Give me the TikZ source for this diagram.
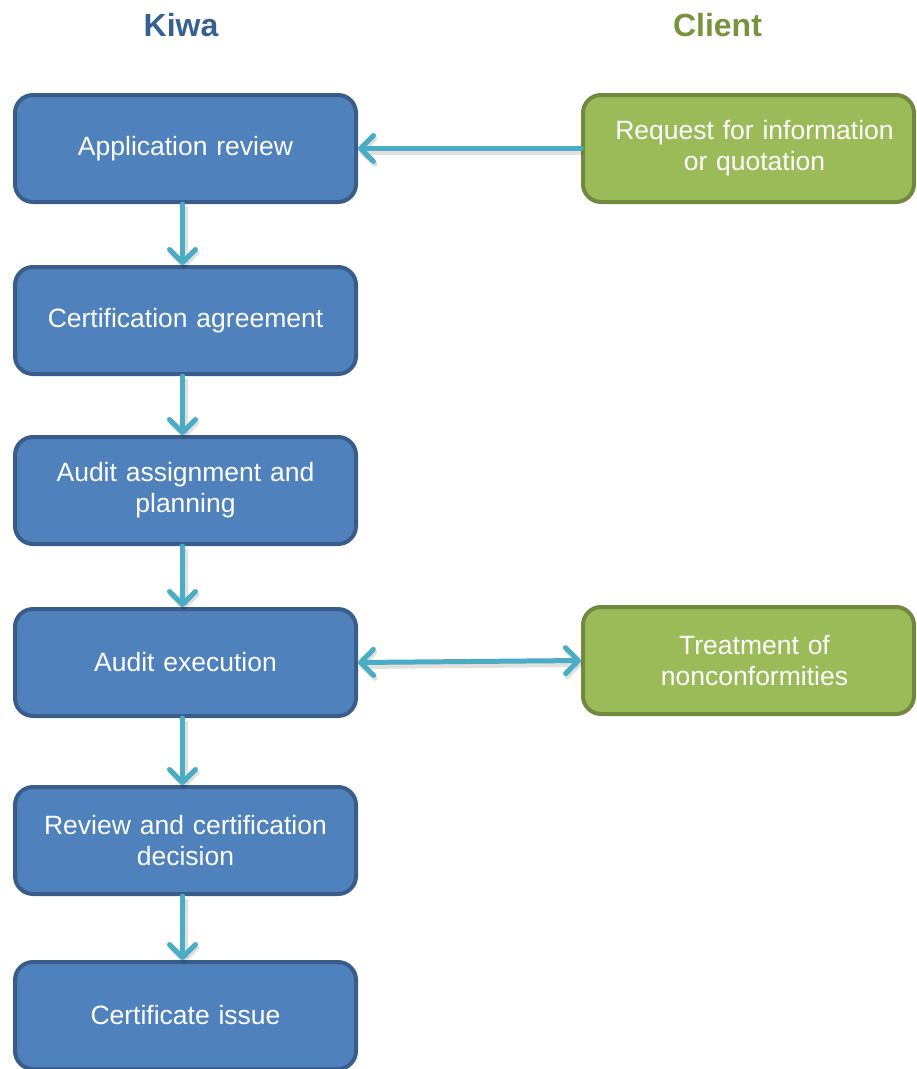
\documentclass[tikz,border=0pt]{standalone}
\usepackage{fontspec}
\setmainfont{Liberation Sans}
\usetikzlibrary{arrows.meta}
\definecolor{boxblue}{HTML}{4F81BD}
\definecolor{edgeblue}{HTML}{385D8A}
\definecolor{boxgreen}{HTML}{9BBB59}
\definecolor{edgegreen}{HTML}{71893F}
\definecolor{arrowcyan}{HTML}{4BACC6}
\definecolor{kiwablue}{HTML}{376092}
\definecolor{clientgreen}{HTML}{77933C}
\begin{document}
\begin{tikzpicture}[x=1pt,y=-1pt,
  kiwabox/.style={draw=edgeblue, fill=boxblue, line width=4pt, rounded corners=18pt,
    minimum width=341pt, minimum height=107pt, text width=320pt, align=center,
    text=white, font=\fontsize{26.5}{31}\selectfont, inner sep=0pt},
  clientbox/.style={kiwabox, draw=edgegreen, fill=boxgreen, minimum width=331pt, text width=310pt},
  heading/.style={font=\fontsize{32}{36}\selectfont\bfseries, inner sep=0pt},
  flowtip/.tip={Straight Barb[length=13pt, width=26pt, line width=5pt, round]},
  flow/.style={draw=arrowcyan, line width=5pt, line cap=round, -flowtip,
    preaction={draw=black, draw opacity=0.12, line width=7pt, transform canvas={shift={(1.5pt,-3pt)}}}},
  both/.style={flow, flowtip-flowtip}
]
\useasboundingbox (0,0) rectangle (917,1069);

\node[heading, text=kiwablue] (kiwa) at (181,25) {Kiwa};
\node[heading, text=clientgreen] (client) at (717.5,25) {Client};

\node[kiwabox] (app) at (185.5,148.5) {Application review};
\node[kiwabox] (agr) at (185.5,320.5) {Certification agreement};
\node[kiwabox] (plan) at (185.5,490.5) {Audit assignment and\\planning};
\node[kiwabox] (exec) at (185.5,662.5) {Audit execution};
\node[kiwabox] (dec) at (185.5,840.5) {Review and certification\\decision};
\node[kiwabox] (iss) at (185.5,1015.5) {Certificate issue};

\node[clientbox] (req) at (748.5,148.5) {\hspace*{12pt}Request for information\\\hspace*{12pt}or quotation};
\node[clientbox] (nc) at (748.5,660.5) {\hspace*{12pt}Treatment of\\\hspace*{12pt}nonconformities};

\draw[flow] ([xshift=-3pt]app.south) -- ([xshift=-3pt]agr.north);
\draw[flow] ([xshift=-3pt]agr.south) -- ([xshift=-3pt]plan.north);
\draw[flow] ([xshift=-3pt]plan.south) -- ([xshift=-3pt]exec.north);
\draw[flow] ([xshift=-3pt]exec.south) -- ([xshift=-3pt]dec.north);
\draw[flow] ([xshift=-3pt]dec.south) -- ([xshift=-3pt]iss.north);
\draw[flow] (req.west) -- (app.east);
\draw[both] (exec.east) -- (nc.west);
\end{tikzpicture}
\end{document}
